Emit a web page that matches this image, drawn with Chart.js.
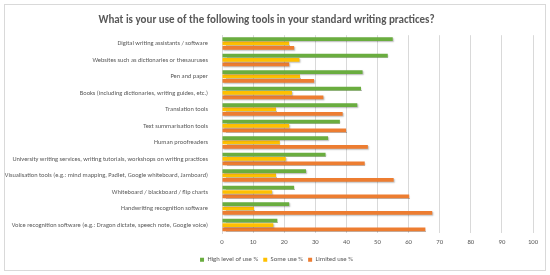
<!DOCTYPE html>
<html>
<head>
<meta charset="utf-8">
<script src="https://cdn.jsdelivr.net/npm/chart.js@4.4.1/dist/chart.umd.min.js"></script>
<style>
  html, body { margin: 0; padding: 0; background: #fff; }
  #frame { position: absolute; left: 4px; top: 4px; width: 540px; height: 265px; border: 1px solid #d9d9d9; }
  #wrap { position: absolute; left: 0; top: 0; width: 550px; height: 275px; }
</style>
</head>
<body>
<div id="frame"></div>
<div id="wrap"><canvas id="chart"></canvas></div>
<script>
/* ── Data ─────────────────────────────────────────────── */
const categories = [
  'Digital writing assistants / software',
  'Websites such as dictionaries or thesauruses',
  'Pen and paper',
  'Books (including dictionaries, writing guides, etc.)',
  'Translation tools',
  'Text summarisation tools',
  'Human proofreaders',
  'University writing services, writing tutorials, workshops on writing practices',
  'Visualisation tools (e.g.: mind mapping, Padlet, Google whiteboard, Jamboard)',
  'Whiteboard / blackboard / flip charts',
  'Handwriting recognition software',
  'Voice recognition software (e.g.: Dragon dictate, speech note, Google voice)',
];
const highUse    = [54.9, 53.3, 45.2, 44.7, 43.5, 37.9, 34.1, 33.3, 27.0, 23.2, 21.6, 17.8];
const someUse    = [21.6, 24.9, 25.1, 22.5, 17.4, 21.6, 18.6, 20.5, 17.4, 16.1, 10.3, 16.5];
const limitedUse = [23.2, 21.6, 29.6, 32.6, 38.8, 39.9, 46.9, 45.9, 55.2, 60.2, 67.6, 65.4];
const xTicks     = [0, 10, 20, 30, 40, 50, 60, 70, 80, 90, 100];

const FONT = 'Carlito, "Liberation Sans Narrow", "Open Sans", sans-serif';
const TEXT = '#595959';

/* ── Excel-like soft shadow under the bars ── */
const barShadow = {
  id: 'barShadow',
  beforeDatasetsDraw(chart) {
    const c = chart.ctx;
    c.save();
    c.shadowColor = 'rgba(0,0,0,0.28)';
    c.shadowOffsetX = 1;
    c.shadowOffsetY = 1;
    c.shadowBlur = 1.5;
  },
  afterDatasetsDraw(chart) { chart.ctx.restore(); },
};

/* ── legend sits a bit right of centre, like the original ── */
const legendShift = {
  id: 'legendShift',
  afterLayout(chart) {
    if (chart.legend) { chart.legend.left += 10; chart.legend.right += 10; }
  },
};

new Chart(document.getElementById('chart'), {
  type: 'bar',
  data: {
    labels: categories,
    datasets: [
      { label: 'High level of use %', data: highUse,    backgroundColor: '#6aad3f' },
      { label: 'Some use %',          data: someUse,    backgroundColor: '#ffc000' },
      { label: 'Limited use %',       data: limitedUse, backgroundColor: '#ed7d31' },
    ],
  },
  options: {
    indexAxis: 'y',
    responsive: true,
    maintainAspectRatio: false,
    animation: false,
    categoryPercentage: 0.8,
    barPercentage: 0.85,
    layout: { padding: { left: 0, right: 17, top: 0, bottom: 2 } },
    plugins: {
      title: {
        display: true,
        text: 'What is your use of the following tools in your standard writing practices?',
        color: TEXT,
        font: { family: FONT, size: 11, weight: 'bold' },
        padding: { top: 14, bottom: 8 },
      },
      legend: {
        position: 'bottom',
        labels: {
          color: TEXT,
          font: { family: FONT, size: 6.7 },
          boxWidth: 4, boxHeight: 4, padding: 5,
        },
      },
      tooltip: { enabled: false },
    },
    scales: {
      x: {
        min: 0, max: 100,
        afterBuildTicks: s => { s.ticks = xTicks.map(v => ({ value: v })); },
        ticks: { color: TEXT, font: { family: FONT, size: 6.7 }, padding: 5 },
        grid: { color: '#d9d9d9', drawTicks: false },
        border: { display: false },
      },
      y: {
        afterFit: s => { s.width = 222; },
        ticks: { color: TEXT, font: { family: FONT, size: 6.4 }, padding: 6, autoSkip: false },
        grid: { display: false },
        border: { color: '#d9d9d9' },
      },
    },
  },
  plugins: [barShadow, legendShift],
});
</script>
</body>
</html>
